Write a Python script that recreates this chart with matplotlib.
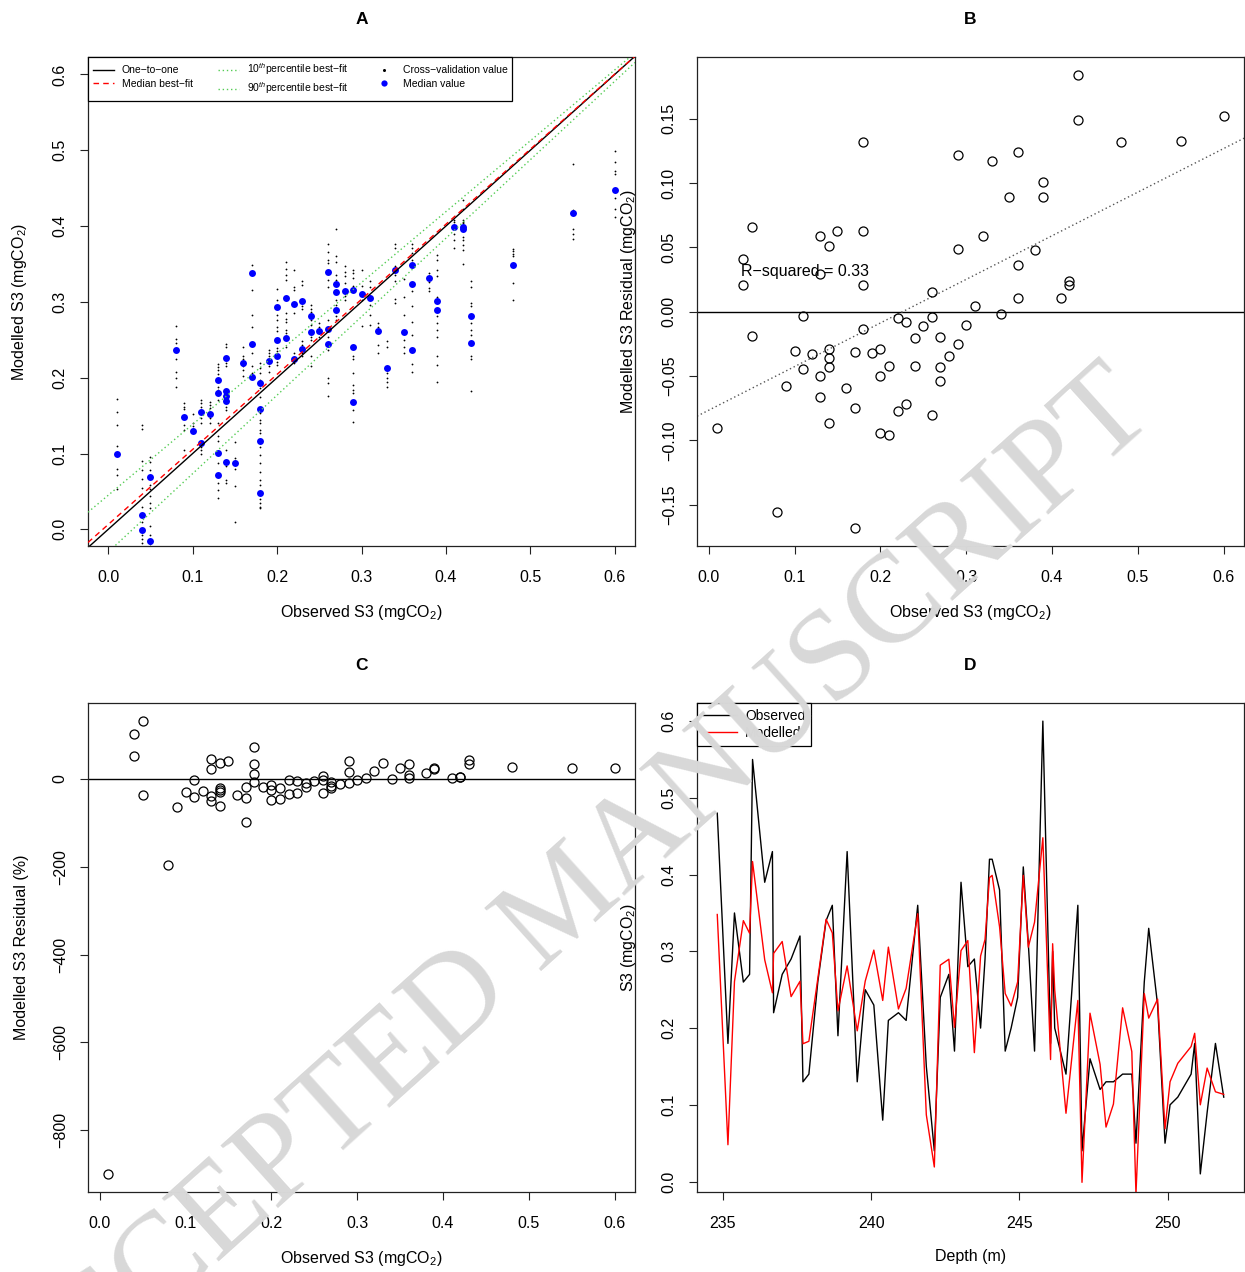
import matplotlib
matplotlib.use("Agg")
import matplotlib.pyplot as plt
import numpy as np
from matplotlib.lines import Line2D

plt.rcParams['font.family'] = ['Liberation Sans', 'DejaVu Sans']
plt.rcParams['mathtext.fontset'] = 'custom'
plt.rcParams['mathtext.rm'] = 'Liberation Sans'
plt.rcParams['mathtext.it'] = 'Liberation Sans:italic'

# samples in depth order
depth = [234.81, 235.17, 235.39, 235.69, 235.90, 236.00, 236.41, 236.67, 236.71, 237.00,
         237.30, 237.60, 237.70, 237.90, 238.20, 238.48, 238.69, 238.88, 239.19, 239.53,
         239.80, 240.09, 240.39, 240.58, 240.92, 241.18, 241.57, 241.86, 242.13, 242.33,
         242.62, 242.81, 243.03, 243.26, 243.48, 243.69, 243.84, 243.99, 244.08, 244.33,
         244.52, 244.72, 244.94, 245.13, 245.30, 245.51, 245.79, 246.05, 246.12, 246.19,
         246.57, 246.97, 247.11, 247.38, 247.72, 247.92, 248.17, 248.48, 248.79, 248.93,
         249.21, 249.36, 249.66, 249.91, 250.08, 250.34, 250.79, 250.91, 251.10, 251.33,
         251.61, 251.89]
observed = [0.48, 0.18, 0.35, 0.26, 0.27, 0.55, 0.39, 0.43, 0.22, 0.27,
            0.29, 0.32, 0.13, 0.14, 0.26, 0.34, 0.36, 0.19, 0.43, 0.13,
            0.25, 0.23, 0.08, 0.21, 0.22, 0.21, 0.36, 0.15, 0.04, 0.24,
            0.27, 0.17, 0.39, 0.28, 0.29, 0.20, 0.29, 0.42, 0.42, 0.38,
            0.17, 0.20, 0.24, 0.41, 0.31, 0.17, 0.60, 0.18, 0.30, 0.20,
            0.14, 0.36, 0.04, 0.16, 0.12, 0.13, 0.13, 0.14, 0.14, 0.05,
            0.26, 0.33, 0.23, 0.05, 0.10, 0.11, 0.14, 0.18, 0.01, 0.09,
            0.18, 0.11]
modelled = [0.348, 0.048, 0.2605, 0.340, 0.3236, 0.417, 0.289, 0.246, 0.2973, 0.3128,
            0.241, 0.261, 0.1796, 0.1828, 0.2642, 0.3418, 0.324, 0.2224, 0.281, 0.1964,
            0.2612, 0.3016, 0.236, 0.3055, 0.2249, 0.2518, 0.349, 0.087, 0.019, 0.282,
            0.2897, 0.2009, 0.301, 0.314, 0.168, 0.2939, 0.3154, 0.396, 0.399, 0.332,
            0.245, 0.2288, 0.2602, 0.399, 0.3055, 0.338, 0.448, 0.159, 0.3099, 0.2496,
            0.089, 0.236, -0.001, 0.2194, 0.1527, 0.071, 0.101, 0.2264, 0.1693, -0.016,
            0.245, 0.213, 0.2378, 0.0687, 0.1301, 0.1541, 0.176, 0.1932, 0.100, 0.1479,
            0.117, 0.1136]

# cross-validation values, grouped by observed value
cv_obs = [0.01, 0.04, 0.05, 0.08, 0.09, 0.10, 0.11, 0.12, 0.13, 0.14, 0.15, 0.16, 0.17,
          0.18, 0.19, 0.20, 0.21, 0.22, 0.23, 0.24, 0.25, 0.26, 0.27, 0.28, 0.29, 0.30,
          0.31, 0.32, 0.33, 0.34, 0.35, 0.36, 0.38, 0.39, 0.41, 0.42, 0.43, 0.48, 0.55, 0.60]
cv_vals = [
    [0.172, 0.155, 0.138, 0.110, 0.080, 0.071, 0.053],
    [0.138, 0.132, 0.090, 0.078, 0.066, 0.055, 0.030, 0.010, -0.007, -0.013, -0.018],
    [0.095, 0.089, 0.078, 0.059, 0.053, 0.044, 0.035, 0.028, 0.004, -0.008, -0.014, -0.019],
    [0.268, 0.251, 0.246, 0.224, 0.207, 0.200, 0.188],
    [0.166, 0.162, 0.159, 0.138, 0.131, 0.105],
    [0.152, 0.140, 0.136],
    [0.171, 0.166, 0.162, 0.147, 0.140, 0.109, 0.105, 0.100],
    [0.168, 0.164, 0.160, 0.147, 0.140],
    [0.218, 0.214, 0.210, 0.205, 0.188, 0.184, 0.171, 0.140, 0.123, 0.116, 0.087, 0.061, 0.052, 0.041],
    [0.245, 0.240, 0.219, 0.215, 0.162, 0.158, 0.105, 0.083, 0.065, 0.061],
    [0.115, 0.094, 0.080, 0.057, 0.010],
    [0.241, 0.228, 0.224, 0.215, 0.210, 0.202],
    [0.348, 0.316, 0.283, 0.267, 0.232, 0.215, 0.206],
    [0.219, 0.213, 0.206, 0.197, 0.186, 0.175, 0.153, 0.144, 0.140, 0.131, 0.127, 0.109,
     0.098, 0.087, 0.076, 0.065, 0.058, 0.040, 0.035, 0.030, 0.028],
    [0.237, 0.232, 0.228, 0.215, 0.208],
    [0.317, 0.303, 0.283, 0.276, 0.267, 0.261, 0.239, 0.235, 0.221, 0.217],
    [0.353, 0.344, 0.336, 0.329, 0.285, 0.278, 0.274, 0.263, 0.259, 0.241],
    [0.342, 0.320, 0.316, 0.285, 0.232, 0.219],
    [0.328, 0.322, 0.294, 0.290, 0.248, 0.243, 0.232, 0.228],
    [0.296, 0.291, 0.287, 0.276, 0.270, 0.254, 0.250, 0.228, 0.215],
    [0.272, 0.267, 0.254],
    [0.377, 0.366, 0.355, 0.351, 0.329, 0.320, 0.276, 0.254, 0.237, 0.200, 0.193, 0.176],
    [0.396, 0.360, 0.353, 0.336, 0.329, 0.303, 0.296, 0.281, 0.276],
    [0.347, 0.340, 0.334, 0.325, 0.308, 0.303],
    [0.342, 0.338, 0.332, 0.321, 0.228, 0.224, 0.206, 0.191, 0.184, 0.180, 0.158, 0.141],
    [0.342, 0.321, 0.303, 0.268],
    [0.327, 0.320, 0.296, 0.283, 0.270],
    [0.272, 0.267, 0.243, 0.232],
    [0.248, 0.241, 0.206, 0.200, 0.194, 0.188],
    [0.377, 0.371, 0.347, 0.336, 0.327, 0.304, 0.298],
    [0.330, 0.307, 0.283, 0.250, 0.241, 0.232],
    [0.377, 0.371, 0.364, 0.355, 0.314, 0.294, 0.273, 0.256, 0.218, 0.208],
    [0.338, 0.326, 0.318, 0.314],
    [0.362, 0.355, 0.342, 0.334, 0.307, 0.281, 0.272, 0.263, 0.254, 0.228, 0.217, 0.194],
    [0.408, 0.406, 0.389, 0.382, 0.371],
    [0.435, 0.422, 0.408, 0.406, 0.404, 0.386, 0.382, 0.375, 0.369, 0.350],
    [0.327, 0.320, 0.298, 0.294, 0.272, 0.263, 0.256, 0.228, 0.224, 0.182],
    [0.370, 0.367, 0.363, 0.360, 0.325, 0.302],
    [0.482, 0.421, 0.396, 0.390, 0.383],
    [0.499, 0.485, 0.472, 0.469, 0.437, 0.422, 0.412],
]

# best-fit lines in panel A: (intercept, slope)
fit_one_to_one = (0.0, 1.0)
fit_median = (0.0064, 0.99)
fit_p10 = (0.045, 0.935)
fit_p90 = (-0.030, 1.035)
r2_text = "R\u2212squared = 0.33"

obs = np.array(observed)
mod = np.array(modelled)
res = obs - mod
res_pct = res / obs * 100

M = "\u2212"
FS = 11.5


def r_lim(v):
    lo, hi = np.min(v), np.max(v)
    r = hi - lo
    return lo - 0.04 * r, hi + 0.04 * r


def style(ax):
    for s in ax.spines.values():
        s.set_linewidth(0.9)
        s.set_color('#222222')
    ax.tick_params(direction='out', length=6, width=0.8, labelsize=FS,
                   colors='#222222', labelcolor='black')
    ax.tick_params(axis='x', pad=11)
    ax.tick_params(axis='y', labelrotation=90, pad=8.5)
    for t in ax.get_yticklabels():
        t.set_va('center')


def labels_and_title(ax, xl, yl, title):
    ax.set_xlabel(xl, fontsize=FS, labelpad=13)
    ax.set_ylabel(yl, fontsize=FS, labelpad=17)
    ax.set_title(title, fontweight='bold', fontsize=12.5, pad=24)


fig = plt.figure(figsize=(12.45, 12.72), dpi=100)
W, H = 1245, 1272
def add_ax(l, t, r, b):
    return fig.add_axes([l / W, 1 - b / H, (r - l) / W, (b - t) / H])

axA = add_ax(88, 57, 635, 546)
axB = add_ax(697, 57, 1244, 546)
axC = add_ax(88, 703, 635, 1192)
axD = add_ax(697, 703, 1244, 1192)

# ---- A
lim = (-0.024, 0.624)
xx = np.array(lim)
for cx, vals in zip(cv_obs, cv_vals):
    axA.plot([cx] * len(vals), vals, 'o', color='black', ms=1.3, mew=0, zorder=2)
axA.plot(obs, mod, 'o', color='#0000ff', ms=5, mew=0, zorder=3)
axA.plot(xx, fit_one_to_one[0] + fit_one_to_one[1] * xx, color='black', lw=1, zorder=4)
axA.plot(xx, fit_median[0] + fit_median[1] * xx, color='red', lw=1, ls=(0, (4, 3)), zorder=4)
axA.plot(xx, fit_p10[0] + fit_p10[1] * xx, color='#55cc55', lw=1, ls=(0, (1, 2)), zorder=4)
axA.plot(xx, fit_p90[0] + fit_p90[1] * xx, color='#55cc55', lw=1, ls=(0, (1, 2)), zorder=4)
axA.set_xlim(lim)
axA.set_ylim(-0.022, 0.623)
ticks = np.arange(0, 0.61, 0.1)
axA.set_xticks(ticks)
axA.set_yticks(ticks)
axA.set_xticklabels([f"{t:.1f}" for t in ticks])
axA.set_yticklabels([f"{t:.1f}" for t in ticks])
style(axA)
labels_and_title(axA, "Observed S3 (mgCO$_2$)", "Modelled S3 (mgCO$_2$)", "A")
handles = [
    Line2D([], [], color='black', lw=1),
    Line2D([], [], color='red', lw=1, ls=(0, (4, 3))),
    Line2D([], [], color='#55cc55', lw=1, ls=(0, (1, 2))),
    Line2D([], [], color='#55cc55', lw=1, ls=(0, (1, 2))),
    Line2D([], [], color='black', marker='o', ms=2.2, ls='none', mew=0),
    Line2D([], [], color='#0000ff', marker='o', ms=4.5, ls='none', mew=0),
]
labels = ["One" + M + "to" + M + "one", "Median best" + M + "fit",
          "10$^{th}$percentile best" + M + "fit", "90$^{th}$percentile best" + M + "fit",
          "Cross" + M + "validation value", "Median value"]
legA = axA.legend(handles, labels, ncol=3, loc='upper left', bbox_to_anchor=(0, 1),
                  borderaxespad=0, fontsize=7.5, frameon=True, fancybox=False,
                  edgecolor='black', framealpha=1, handlelength=2.0, columnspacing=2.4,
                  labelspacing=0.3, borderpad=0.45, handletextpad=0.8)
legA.get_frame().set_linewidth(0.9)

# ---- B
xlimB = r_lim(obs)
slope, icpt = np.polyfit(obs, res, 1)
xb = np.array(xlimB)
axB.axhline(0, color='black', lw=1)
axB.plot(xb, icpt + slope * xb, color='#555555', lw=1, ls=(0, (1, 2)))
axB.plot(obs, res, 'o', mfc='none', mec='black', ms=6.5, mew=0.9)
axB.text(0.038, 0.031, r2_text, fontsize=FS, va='center', ha='left')
axB.set_xlim(xlimB)
axB.set_ylim(r_lim(res))
axB.set_xticks(ticks)
axB.set_xticklabels([f"{t:.1f}" for t in ticks])
bt = np.array([-0.15, -0.10, -0.05, 0.0, 0.05, 0.10, 0.15])
axB.set_yticks(bt)
axB.set_yticklabels([f"{t:.2f}".replace("-", M) for t in bt])
style(axB)
labels_and_title(axB, "Observed S3 (mgCO$_2$)", "Modelled S3 Residual (mgCO$_2$)", "B")

# ---- C
axC.axhline(0, color='black', lw=1)
axC.plot(obs, res_pct, 'o', mfc='none', mec='black', ms=6.5, mew=0.9)
axC.set_xlim(xlimB)
axC.set_ylim(r_lim(res_pct))
axC.set_xticks(ticks)
axC.set_xticklabels([f"{t:.1f}" for t in ticks])
ct = [-800, -600, -400, -200, 0]
axC.set_yticks(ct)
axC.set_yticklabels([str(t).replace("-", M) for t in ct])
style(axC)
labels_and_title(axC, "Observed S3 (mgCO$_2$)", "Modelled S3 Residual (%)", "C")

# ---- D
axD.plot(depth, observed, color='black', lw=1, label="Observed")
axD.plot(depth, modelled, color='red', lw=1, label="Modelled")
axD.set_xlim(r_lim(depth))
axD.set_ylim(r_lim(obs))
axD.set_xticks([235, 240, 245, 250])
axD.set_yticks(ticks)
axD.set_yticklabels([f"{t:.1f}" for t in ticks])
style(axD)
labels_and_title(axD, "Depth (m)", "S3 (mgCO$_2$)", "D")
legD = axD.legend(loc='upper left', bbox_to_anchor=(0, 1), borderaxespad=0, fontsize=10,
                  frameon=True, fancybox=False, edgecolor='black', framealpha=1,
                  handlelength=2.4, borderpad=0.45, labelspacing=0.2, handletextpad=0.6)
legD.get_frame().set_linewidth(0.9)

# watermark
fig.text(568 / W, 1 - 906 / H, "ACCEPTED MANUSCRIPT", fontsize=93, color='#d8d8d8',
         family=['Liberation Serif', 'DejaVu Serif'], rotation=42, ha='center', va='center',
         rotation_mode='anchor', zorder=10)

fig.savefig("out.png", dpi=100)
